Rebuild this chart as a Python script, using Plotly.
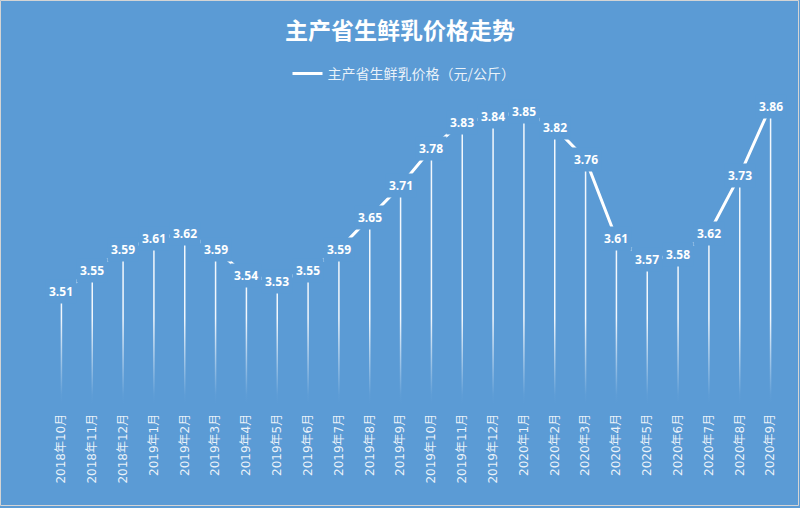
import plotly.graph_objects as go

months = ["2018年10月", "2018年11月", "2018年12月", "2019年1月", "2019年2月", "2019年3月",
          "2019年4月", "2019年5月", "2019年6月", "2019年7月", "2019年8月", "2019年9月",
          "2019年10月", "2019年11月", "2019年12月", "2020年1月", "2020年2月", "2020年3月",
          "2020年4月", "2020年5月", "2020年6月", "2020年7月", "2020年8月", "2020年9月"]
prices = [3.51, 3.55, 3.59, 3.61, 3.62, 3.59, 3.54, 3.53, 3.55, 3.59, 3.65, 3.71,
          3.78, 3.83, 3.84, 3.85, 3.82, 3.76, 3.61, 3.57, 3.58, 3.62, 3.73, 3.86]
series_name = "主产省生鲜乳价格（元/公斤）"
title_text = "主产省生鲜乳价格走势"

BG = "#5B9BD5"
Y_MIN, Y_MAX = 3.3, 3.9
FADE_TOP = 3.46

idx = list(range(len(months)))
n = len(months)

ML, MR, MT, MB = 46, 14, 85, 105
plot_w = 800 - ML - MR
plot_h = 508 - MT - MB

fig = go.Figure()

# drop lines
fig.add_trace(go.Scatter(
    x=idx, y=prices, mode="markers", marker=dict(size=1, opacity=0),
    error_y=dict(type="data", symmetric=False, array=[0] * n,
                 arrayminus=[v - Y_MIN for v in prices],
                 color="rgba(255,255,255,0.92)", thickness=1.5, width=0),
    showlegend=False, hoverinfo="skip"))

# fade overlay for drop lines
fig.add_trace(go.Scatter(
    x=[-0.5, n - 0.5, n - 0.5, -0.5, -0.5],
    y=[Y_MIN, Y_MIN, FADE_TOP, FADE_TOP, Y_MIN],
    mode="lines", line=dict(width=0), fill="toself",
    fillgradient=dict(type="vertical",
                      colorscale=[[0, "rgba(91,155,213,1)"], [0.1, "rgba(91,155,213,0.97)"],
                                  [1, "rgba(91,155,213,0)"]]),
    showlegend=False, hoverinfo="skip"))

# main line
fig.add_trace(go.Scatter(
    x=idx, y=prices, mode="lines", name=series_name,
    line=dict(color="white", width=3)))

for i, v in zip(idx, prices):
    fig.add_annotation(
        x=i, y=v, text=f"{v:.2f}", showarrow=False,
        font=dict(family="Open Sans, Noto Sans", size=12, color="white", weight="bold"),
        bgcolor=BG, borderpad=3)

fig.add_shape(type="rect", xref="paper", yref="paper",
              x0=-(ML - 0.5) / plot_w, x1=1 + (MR - 1.5) / plot_w,
              y0=-(MB - 2.5) / plot_h, y1=1 + (MT - 0.5) / plot_h,
              line=dict(color="#D4D4D4", width=1), layer="above")

fig.update_layout(
    width=800, height=508,
    margin=dict(l=ML, r=MR, t=MT, b=MB),
    paper_bgcolor=BG, plot_bgcolor=BG,
    title=dict(text=title_text, x=0.5, xref="container", y=1 - 31 / 508, yanchor="middle",
               font=dict(family="Noto Sans CJK SC", size=23, color="white", weight="bold")),
    legend=dict(orientation="h", x=(404 - ML) / plot_w, xanchor="center",
                y=(508 - MB - 74) / plot_h, yanchor="middle",
                font=dict(family="Noto Sans CJK SC", size=14, color="rgba(255,255,255,0.88)"),
                bgcolor="rgba(0,0,0,0)"),
    xaxis=dict(range=[-0.5, n - 0.5], tickvals=idx, ticktext=months, tickangle=-90,
               showgrid=False, zeroline=False, showline=False,
               ticks="outside", ticklen=5, tickcolor="rgba(0,0,0,0)",
               tickfont=dict(family="DejaVu Sans, Noto Sans CJK SC", size=12,
                             color="rgba(255,255,255,0.88)")),
    yaxis=dict(range=[Y_MIN, Y_MAX], showgrid=False, zeroline=False, showline=False,
               showticklabels=False, ticks=""),
    showlegend=True,
    hovermode=False,
)

fig.write_html("out.html")
